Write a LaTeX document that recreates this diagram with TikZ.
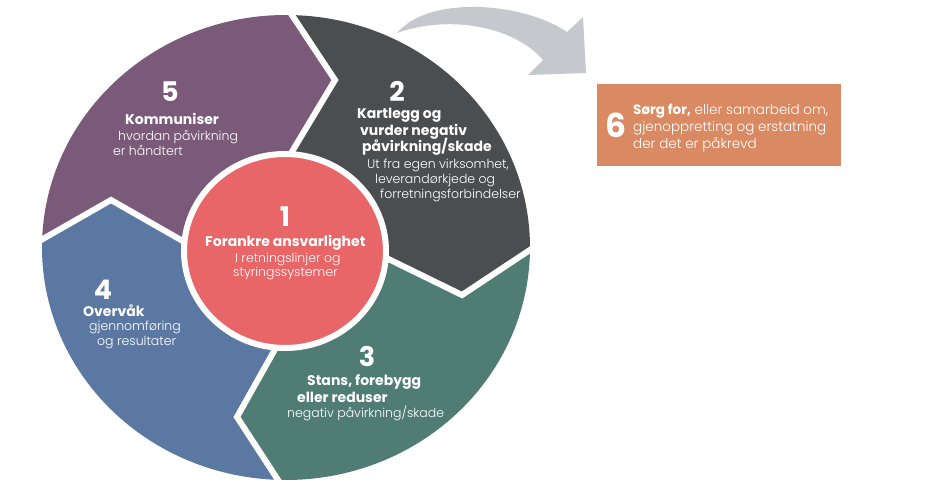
\documentclass[tikz,border=0pt]{standalone}
\usepackage{fontspec}
\setmainfont{Poppins}
\IfFontExistsTF{Poppins Light}{\newfontfamily\lightfont{Poppins Light}}{\newfontfamily\lightfont{Poppins}}
\usetikzlibrary{calc}
\definecolor{cPurple}{HTML}{7A5A78}
\definecolor{cDark}{HTML}{4B4E51}
\definecolor{cGreen}{HTML}{4F7D74}
\definecolor{cBlue}{HTML}{5A78A2}
\definecolor{cRed}{HTML}{E86568}
\definecolor{cOrange}{HTML}{D98A62}
\definecolor{cArrow}{HTML}{C5C9CD}
\tikzset{
  gap/.style={white, line width=6, line join=miter},
  numtxt/.style={font=\bfseries\fontsize{27}{30}\selectfont, text=white, inner sep=0},
  boldtxt/.style={font=\bfseries\fontsize{14}{16}\selectfont, text=white, anchor=base west, inner sep=0},
  lighttxt/.style={font=\lightfont\fontsize{12.5}{14}\selectfont, text=white, anchor=base west, inner sep=0},
  boxtxt/.style={font=\lightfont\fontsize{13.5}{15}\selectfont, text=white, anchor=base west, inner sep=0},
}
\begin{document}
\begin{tikzpicture}[x=1pt,y=1pt]
\useasboundingbox (0,0) rectangle (925,-497);
% curved grey arrow towards box 6
\fill[cArrow] (397,-33) .. controls (430,6) and (525,-3) .. (567,-32)
  -- (583,-17) -- (586,-73) -- (528,-75) -- (543,-60)
  .. controls (515,-27) and (450,-14) .. (397,-33) -- cycle;
% ring of four chevron segments
\begin{scope}[shift={(286,-247.5)}]
  \coordinate (b1t) at (49,167.5);  \coordinate (b1i) at (-5,77.5);
  \coordinate (b2t) at (176,-47.5); \coordinate (b2i) at (84,-2.5);
  \coordinate (b3t) at (-49,-169.5);\coordinate (b3i) at (-3,-87.5);
  \coordinate (b4t) at (-175,47.5); \coordinate (b4i) at (-91,-0.5);
  \coordinate (b1x) at ($(b1t)!1.15!(88.6:244 and 232.5)$);
  \coordinate (b2x) at ($(b2t)!1.15!(-0.6:244 and 232.5)$);
  \coordinate (b3x) at ($(b3t)!1.15!(-91.9:244 and 232.5)$);
  \coordinate (b4x) at ($(b4t)!1.15!(178:244 and 232.5)$);
  \coordinate (cc) at (0,0);
  \fill[cPurple] (178:244 and 232.5) arc[start angle=178,end angle=88.6,x radius=244,y radius=232.5]
     -- (b1t) -- (b1i) -- (cc) -- (b4i) -- (b4t) -- cycle;
  \fill[cDark] (88.6:244 and 232.5) arc[start angle=88.6,end angle=-0.6,x radius=244,y radius=232.5]
     -- (b2t) -- (b2i) -- (cc) -- (b1i) -- (b1t) -- cycle;
  \fill[cGreen] (-0.6:244 and 232.5) arc[start angle=-0.6,end angle=-91.9,x radius=244,y radius=232.5]
     -- (b3t) -- (b3i) -- (cc) -- (b2i) -- (b2t) -- cycle;
  \fill[cBlue] (-91.9:244 and 232.5) arc[start angle=-91.9,end angle=-182,x radius=244,y radius=232.5]
     -- (b4t) -- (b4i) -- (cc) -- (b3i) -- (b3t) -- cycle;
  \draw[gap] (b1x) -- (b1t) -- (b1i);
  \draw[gap] (b2x) -- (b2t) -- (b2i);
  \draw[gap] (b3x) -- (b3t) -- (b3i);
  \draw[gap] (b4x) -- (b4t) -- (b4i);
  \draw[white, line width=6, fill=cRed] (-1,-3.5) ellipse [x radius=101, y radius=97];
\end{scope}
% box 6
\node[fill=cOrange, minimum width=244, minimum height=82, inner sep=0] (box6) at (719,-125) {};
\node[numtxt, font=\bfseries\fontsize{33}{36}\selectfont] (n6) at (616,-125) {6};
\node[boxtxt] (t6a) at (633,-115) {{\normalfont\bfseries Sørg for,} eller samarbeid om,};
\node[boxtxt] (t6b) at (633,-132) {gjenoppretting og erstatning};
\node[boxtxt] (t6c) at (633,-149) {der det er påkrevd};
% segment 5
\node[numtxt] (n5) at (170,-92) {5};
\node[boldtxt] (t5a) at (125,-125) {Kommuniser};
\node[lighttxt] (t5b) at (118,-141) {hvordan påvirkning};
\node[lighttxt] (t5c) at (113,-156) {er håndtert};
% segment 2
\node[numtxt] (n2) at (397,-91) {2};
\node[boldtxt] (t2a) at (357,-119) {Kartlegg og};
\node[boldtxt] (t2b) at (360,-136) {vurder negativ};
\node[boldtxt] (t2c) at (362,-152) {påvirkning/skade};
\node[lighttxt] (t2d) at (367,-168) {Ut fra egen virksomhet,};
\node[lighttxt] (t2e) at (375,-183) {leverandørkjede og};
\node[lighttxt] (t2f) at (380,-198) {forretningsforbindelser};
% segment 1
\node[numtxt] (n1) at (285,-217) {1};
\node[boldtxt] (t1a) at (205,-246) {Forankre ansvarlighet};
\node[lighttxt] (t1b) at (235,-262) {I retningslinjer og};
\node[lighttxt] (t1c) at (233,-276) {styringssystemer};
% segment 4
\node[numtxt] (n4) at (103,-290) {4};
\node[boldtxt] (t4a) at (83,-316) {Overvåk};
\node[lighttxt] (t4b) at (89,-330) {gjennomføring};
\node[lighttxt] (t4c) at (97,-345) {og resultater};
% segment 3
\node[numtxt] (n3) at (367,-356) {3};
\node[boldtxt] (t3a) at (307,-385) {Stans, forebygg};
\node[boldtxt] (t3b) at (297,-402) {eller reduser};
\node[lighttxt] (t3c) at (287,-417) {negativ påvirkning/skade};
\end{tikzpicture}
\end{document}
